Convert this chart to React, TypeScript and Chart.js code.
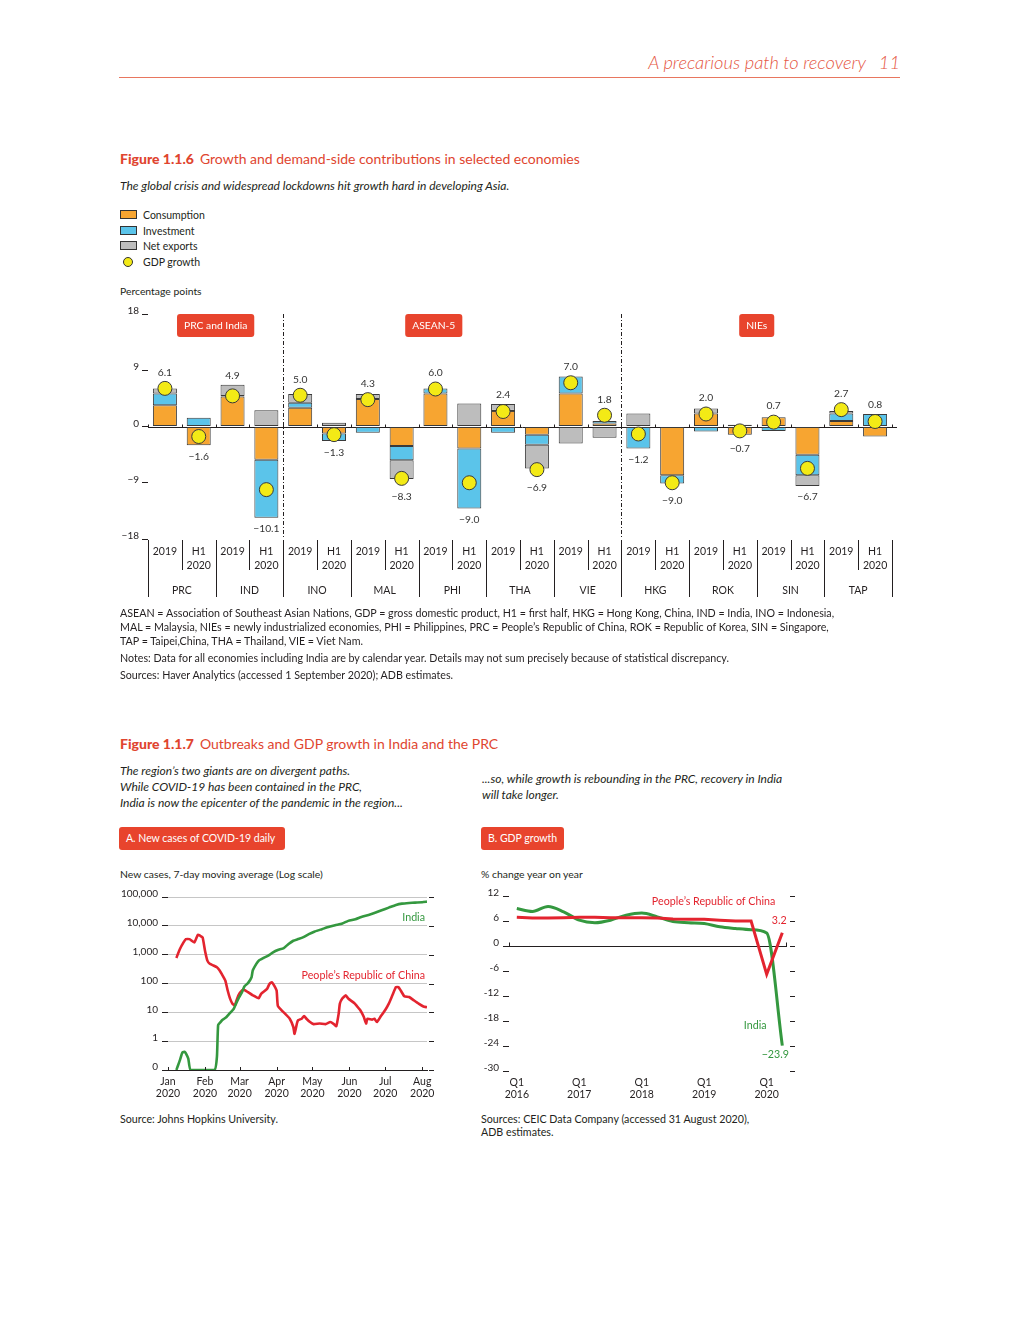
import React, { useEffect, useRef } from 'react';
import { Chart, registerables } from 'chart.js';

Chart.register(...registerables);

const FONT = 'Lato, "Open Sans", "DejaVu Sans", sans-serif';
const INK = '#231f20';
const TITLE_RED = '#E0452F';
const BADGE_RED = '#E8442D';
const ORANGE = '#F7A531';
const BLUE = '#5BC4EA';
const GREY = '#BDBDBD';
const YELLOW = '#F3EA16';
const PRC_RED = '#E3242F';
const INDIA_GREEN = '#34983F';

// ---------- Figure 1.1.6 data ----------
const ECONOMIES = ['PRC', 'IND', 'INO', 'MAL', 'PHI', 'THA', 'VIE', 'HKG', 'ROK', 'SIN', 'TAP'];
const PERIODS = ['2019', 'H1 2020'];
const GROUPS = ['PRC and India', 'ASEAN-5', 'NIEs'];
const GROUP_ANCHORS = [1.5, 7.95, 17.5];
const GROUP_BREAKS = [4, 14];
const BAR_TICKS = [-18, -9, 0, 9, 18];
const CONSUMPTION = [3.4, -3.0, 4.8, -5.3, 3.0, -1.1, 4.4, -3.1, 5.3, -3.5, 2.5, -1.3, 5.3, 0.5, 0.0, -7.8, 2.1, -1.3, 1.5, -4.5, 0.9, -1.6];
const INVESTMENT = [1.9, 1.4, 0.1, -9.3, 0.8, -1.2, -1.0, -2.3, 0.8, -9.6, -1.0, -1.6, 2.7, 0.4, -3.5, -1.3, -0.8, 0.3, -0.7, -3.3, 1.2, 2.0];
const NET_EXPORTS = [0.8, 0.0, 1.8, 2.6, 1.4, 0.6, 0.8, -3.0, 0.0, 3.7, 1.1, -3.8, -2.7, -1.8, 2.1, 0.0, 0.8, 0.0, 0.0, -1.7, 0.4, 0.0];
const GDP_GROWTH = [6.1, -1.6, 4.9, -10.1, 5.0, -1.3, 4.3, -8.3, 6.0, -9.0, 2.4, -6.9, 7.0, 1.8, -1.2, -9.0, 2.0, -0.7, 0.7, -6.7, 2.7, 0.8];
const CATEGORIES = ECONOMIES.flatMap((e) => PERIODS.map((p) => `${e} ${p}`));

// ---------- Figure 1.1.7 A data (7-day average new cases) ----------
const MONTHS = ['Jan', 'Feb', 'Mar', 'Apr', 'May', 'Jun', 'Jul', 'Aug'];
const MONTH_TICK_DATES = ['2020-01-15', '2020-02-15', '2020-03-15', '2020-04-15', '2020-05-15', '2020-06-15', '2020-07-15', '2020-08-15'];
const LOG_TICKS = [0.1, 1, 10, 100, 1000, 10000, 100000];
const PRC_DATES = ['2020-01-22', '2020-01-25', '2020-01-28', '2020-01-30', '2020-02-02', '2020-02-06', '2020-02-09', '2020-02-11', '2020-02-13', '2020-02-15', '2020-02-17', '2020-02-19', '2020-02-22', '2020-02-25', '2020-02-27', '2020-02-29', '2020-03-03', '2020-03-05', '2020-03-07', '2020-03-09', '2020-03-11', '2020-03-12', '2020-03-14', '2020-03-17', '2020-03-19', '2020-03-22', '2020-03-26', '2020-03-31', '2020-04-02', '2020-04-07', '2020-04-09', '2020-04-11', '2020-04-13', '2020-04-15', '2020-04-16', '2020-04-19', '2020-04-22', '2020-04-26', '2020-04-29', '2020-04-30', '2020-05-02', '2020-05-03', '2020-05-06', '2020-05-08', '2020-05-10', '2020-05-13', '2020-05-16', '2020-05-21', '2020-05-26', '2020-05-30', '2020-06-02', '2020-06-04', '2020-06-06', '2020-06-07', '2020-06-09', '2020-06-12', '2020-06-14', '2020-06-19', '2020-06-21', '2020-06-24', '2020-06-27', '2020-06-29', '2020-06-30', '2020-07-04', '2020-07-06', '2020-07-08', '2020-07-11', '2020-07-15', '2020-07-18', '2020-07-21', '2020-07-24', '2020-07-26', '2020-07-28', '2020-07-31', '2020-08-04', '2020-08-08', '2020-08-12', '2020-08-16', '2020-08-19'];
const PRC_CASES = [770, 1570, 2660, 3470, 3470, 2660, 4900, 4520, 3960, 1370, 620, 480, 420, 365, 295, 215, 127, 57, 30, 20, 17, 23, 39, 57, 60, 50, 39, 31, 44, 65, 97, 111, 85, 57, 17, 12, 9, 6, 3.1, 1.8, 4.1, 5.3, 6, 7.5, 6, 4.6, 3.9, 4.1, 3.9, 4.6, 3.9, 3.3, 9, 20, 30, 39, 30, 21, 17, 12, 7, 4.1, 6, 5.6, 6, 4.6, 7, 12, 20, 39, 75, 75, 57, 36, 34, 26, 20, 16, 15];
const INDIA_DATES = ['2020-01-22', '2020-01-23', '2020-01-25', '2020-01-27', '2020-01-29', '2020-01-30', '2020-02-01', '2020-02-03', '2020-02-23', '2020-02-25', '2020-02-26', '2020-02-28', '2020-03-01', '2020-03-04', '2020-03-07', '2020-03-10', '2020-03-12', '2020-03-14', '2020-03-17', '2020-03-19', '2020-03-22', '2020-03-25', '2020-03-26', '2020-03-29', '2020-03-31', '2020-04-04', '2020-04-08', '2020-04-12', '2020-04-16', '2020-04-21', '2020-04-25', '2020-04-29', '2020-05-03', '2020-05-07', '2020-05-12', '2020-05-17', '2020-05-23', '2020-05-29', '2020-06-03', '2020-06-09', '2020-06-14', '2020-06-20', '2020-06-25', '2020-07-01', '2020-07-07', '2020-07-12', '2020-07-18', '2020-07-24', '2020-07-29', '2020-08-04', '2020-08-09', '2020-08-15', '2020-08-19'];
const INDIA_CASES = [0, 0.13, 0.22, 0.4, 0.43, 0.38, 0.25, 0, 0, 0.29, 3.6, 4.6, 5.6, 6.9, 9.5, 13, 20, 30, 50, 79, 103, 165, 281, 477, 621, 767, 925, 1200, 1450, 1700, 2340, 3040, 3470, 3960, 5160, 6380, 7680, 9250, 10550, 12030, 14860, 16980, 20420, 23930, 28840, 34680, 42850, 52970, 58880, 62120, 63830, 65500, 69040];

// ---------- Figure 1.1.7 B data (GDP % change y-o-y) ----------
const QUARTERS = ['Q1 2016', 'Q2 2016', 'Q3 2016', 'Q4 2016', 'Q1 2017', 'Q2 2017', 'Q3 2017', 'Q4 2017', 'Q1 2018', 'Q2 2018', 'Q3 2018', 'Q4 2018', 'Q1 2019', 'Q2 2019', 'Q3 2019', 'Q4 2019', 'Q1 2020', 'Q2 2020'];
const QUARTER_TICKS = [0, 4, 8, 12, 16];
const PRC_GDP = [6.9, 6.7, 6.7, 6.8, 6.9, 6.9, 6.8, 6.8, 6.8, 6.7, 6.5, 6.4, 6.4, 6.2, 6.0, 6.0, -6.8, 3.2];
const INDIA_GDP = [9.0, 8.3, 9.5, 8.2, 6.2, 5.6, 6.2, 7.4, 7.9, 7.0, 5.9, 5.6, 5.4, 4.6, 4.2, 3.9, 3.1, -23.9];
const GDP_TICKS = [-30, -24, -18, -12, -6, 0, 6, 12];

const LOG_FLOOR = LOG_TICKS[0];
const dayOfYear = (iso: string) => {
  const [y, m, d] = iso.split('-').map(Number);
  return (Date.UTC(y, m - 1, d) - Date.UTC(y, 0, 1)) / 86400000;
};
const fmt = (v: number) => (v < 0 ? '\u2212' : '') + Math.abs(v).toFixed(1);
const f = (size: number, weight = 'normal', style = 'normal') => `${style} ${weight} ${size}px ${FONT}`;

Chart.defaults.font.family = FONT;
Chart.defaults.color = INK;

// ---------- plugins ----------
const barDecor = {
  id: 'barDecor',
  beforeDatasetsDraw(chart: any) {
    const { ctx, chartArea, scales } = chart;
    const x = scales.x, y = scales.y;
    const y0 = Math.round(y.getPixelForValue(0)) + 0.5;
    ctx.save();
    ctx.strokeStyle = INK;
    ctx.lineWidth = 1;
    ctx.beginPath();
    ctx.moveTo(chartArea.left, y0);
    ctx.lineTo(chartArea.right + 5, y0);
    for (let i = 0; i <= CATEGORIES.length; i++) {
      const bx = Math.round(x.getPixelForValue(i - 0.5)) + 0.5;
      ctx.moveTo(bx, y0);
      ctx.lineTo(bx, y0 - 3);
    }
    ctx.stroke();
    ctx.setLineDash([4, 2, 1, 2]);
    ctx.beginPath();
    GROUP_BREAKS.forEach((b) => {
      const bx = Math.round(x.getPixelForValue(b - 0.5)) + 0.5;
      ctx.moveTo(bx, chartArea.top);
      ctx.lineTo(bx, chartArea.bottom - 2);
    });
    ctx.stroke();
    ctx.restore();
  },
  afterDraw(chart: any) {
    const { ctx, chartArea, scales } = chart;
    const x = scales.x, y = scales.y;
    const R = 7;
    ctx.save();
    // GDP value labels
    ctx.font = f(10.3);
    ctx.fillStyle = '#333';
    ctx.textAlign = 'center';
    ctx.textBaseline = 'middle';
    GDP_GROWTH.forEach((g, i) => {
      const vals = [CONSUMPTION[i], INVESTMENT[i], NET_EXPORTS[i]];
      const pos = vals.reduce((s, v) => s + Math.max(0, v), 0);
      const neg = vals.reduce((s, v) => s + Math.min(0, v), 0);
      const dot = y.getPixelForValue(g);
      const cx = x.getPixelForValue(i);
      const ty = g >= 0
        ? Math.min(y.getPixelForValue(pos), dot - R) - 9
        : Math.max(y.getPixelForValue(neg), dot + R) + 11;
      ctx.fillText(fmt(g), cx, ty);
    });
    // group badges
    GROUPS.forEach((g, k) => {
      const cx = x.getPixelForValue(GROUP_ANCHORS[k]);
      ctx.font = f(10.3);
      const w = ctx.measureText(g).width + 14;
      const top = chartArea.top;
      ctx.fillStyle = BADGE_RED;
      ctx.beginPath();
      if (ctx.roundRect) ctx.roundRect(cx - w / 2, top, w, 23, 3);
      else ctx.rect(cx - w / 2, top, w, 23);
      ctx.fill();
      ctx.fillStyle = '#fff';
      ctx.fillText(g, cx, top + 12);
    });
    // two-level category axis
    const base = chartArea.bottom;
    ctx.strokeStyle = INK;
    ctx.lineWidth = 1;
    ctx.beginPath();
    for (let i = 0; i <= CATEGORIES.length; i++) {
      const bx = Math.round(x.getPixelForValue(i - 0.5)) + 0.5;
      ctx.moveTo(bx, base + 1);
      ctx.lineTo(bx, base + (i % 2 === 0 ? 58 : 31));
    }
    ctx.stroke();
    ctx.fillStyle = INK;
    ctx.font = f(10.5);
    CATEGORIES.forEach((c, i) => {
      const cx = x.getPixelForValue(i);
      const p = PERIODS[i % 2].split(' ');
      p.forEach((line, j) => ctx.fillText(line, cx, base + 13 + j * 14));
    });
    ECONOMIES.forEach((e, k) => {
      ctx.fillText(e, x.getPixelForValue(2 * k + 0.5), base + 52);
    });
    ctx.restore();
  },
};

const covidDecor = {
  id: 'covidDecor',
  afterDraw(chart: any) {
    const { ctx, chartArea, scales } = chart;
    const x = scales.x, y = scales.y;
    ctx.save();
    ctx.strokeStyle = INK;
    ctx.lineWidth = 1;
    ctx.beginPath();
    LOG_TICKS.forEach((v) => {
      const py = Math.round(y.getPixelForValue(v)) + 0.5;
      ctx.moveTo(chartArea.right + 2, py);
      ctx.lineTo(chartArea.right + 7, py);
    });
    MONTH_TICK_DATES.forEach((d) => {
      const px = Math.round(x.getPixelForValue(dayOfYear(d))) + 0.5;
      ctx.moveTo(px, chartArea.bottom);
      ctx.lineTo(px, chartArea.bottom - 3);
    });
    ctx.stroke();
    ctx.font = f(10.7);
    ctx.textAlign = 'right';
    ctx.textBaseline = 'middle';
    ctx.fillStyle = INDIA_GREEN;
    ctx.fillText('India', chartArea.right - 2, y.getPixelForValue(19500));
    ctx.fillStyle = PRC_RED;
    ctx.fillText('People\u2019s Republic of China', chartArea.right - 2, y.getPixelForValue(195));
    ctx.restore();
  },
};

const gdpDecor = {
  id: 'gdpDecor',
  afterDraw(chart: any) {
    const { ctx, chartArea, scales } = chart;
    const x = scales.x, y = scales.y;
    ctx.save();
    ctx.strokeStyle = INK;
    ctx.lineWidth = 1;
    ctx.beginPath();
    GDP_TICKS.forEach((v) => {
      const py = Math.round(y.getPixelForValue(v)) + 0.5;
      ctx.moveTo(chartArea.right + 3, py);
      ctx.lineTo(chartArea.right + 8, py);
    });
    const y0 = Math.round(y.getPixelForValue(0)) + 0.5;
    ctx.moveTo(chartArea.left + 0.5, y0);
    ctx.lineTo(chartArea.left + 0.5, y0 - 4);
    ctx.moveTo(chartArea.right - 0.5, y0);
    ctx.lineTo(chartArea.right - 0.5, y0 - 4);
    ctx.stroke();
    const last = QUARTERS.length - 1;
    const lx = x.getPixelForValue(last);
    ctx.font = f(10.7);
    ctx.textBaseline = 'middle';
    ctx.fillStyle = PRC_RED;
    ctx.textAlign = 'right';
    ctx.fillText('People\u2019s Republic of China', x.getPixelForValue(16.55), y.getPixelForValue(10.7));
    ctx.textAlign = 'center';
    ctx.fillText(fmt(PRC_GDP[last]), lx - 3, y.getPixelForValue(PRC_GDP[last]) - 12);
    ctx.fillStyle = INDIA_GREEN;
    ctx.fillText('India', x.getPixelForValue(15.26), y.getPixelForValue(-19.2));
    ctx.fillText(fmt(INDIA_GDP[last]), lx - 7, y.getPixelForValue(INDIA_GDP[last]) + 9);
    ctx.restore();
  },
};

// ---------- chart components ----------
function BarChart() {
  const ref = useRef<HTMLCanvasElement>(null);
  useEffect(() => {
    const barDs = (label: string, data: number[], color: string) => ({
      type: 'bar' as const,
      label,
      data,
      backgroundColor: color,
      borderColor: '#3a3a3a',
      borderWidth: 1,
      borderSkipped: false,
      barPercentage: 0.71,
      categoryPercentage: 1,
      stack: 'demand',
      order: 1,
    });
    const chart = new Chart(ref.current!, {
      type: 'bar',
      data: {
        labels: CATEGORIES,
        datasets: [
          {
            type: 'line' as const,
            label: 'GDP growth',
            data: GDP_GROWTH,
            showLine: false,
            pointRadius: 7,
            pointBackgroundColor: YELLOW,
            pointBorderColor: '#3a3a3a',
            pointBorderWidth: 1,
            stack: 'gdp',
            order: 0,
          } as any,
          barDs('Consumption', CONSUMPTION, ORANGE),
          barDs('Investment', INVESTMENT, BLUE),
          barDs('Net exports', NET_EXPORTS, GREY),
        ],
      },
      options: {
        animation: false,
        responsive: false,
        maintainAspectRatio: false,
        layout: { padding: { top: 14, bottom: 71, right: 13, left: 0 } },
        plugins: { legend: { display: false }, tooltip: { enabled: false } },
        scales: {
          x: { stacked: true, display: false },
          y: {
            stacked: true,
            min: -18,
            max: 18,
            afterBuildTicks: (s: any) => { s.ticks = BAR_TICKS.map((v) => ({ value: v })); },
            afterFit: (s: any) => { s.width = 33; },
            grid: { drawOnChartArea: false, drawTicks: true, tickLength: 6, tickColor: INK, color: INK },
            border: { display: false },
            ticks: { padding: 3, labelOffset: -3, font: { size: 10 }, color: INK, callback: (v: any) => (v < 0 ? '\u2212' + Math.abs(v) : String(v)) },
          },
        },
      },
      plugins: [barDecor],
    } as any);
    return () => chart.destroy();
  }, []);
  return <canvas ref={ref} width={790} height={310} style={{ position: 'absolute', left: 115, top: 300, width: 790, height: 310 }} />;
}

function CovidChart() {
  const ref = useRef<HTMLCanvasElement>(null);
  useEffect(() => {
    const chart = new Chart(ref.current!, {
      type: 'line',
      data: {
        datasets: [
          {
            label: 'India',
            data: INDIA_DATES.map((d, i) => ({ x: dayOfYear(d), y: Math.max(INDIA_CASES[i], LOG_FLOOR) })),
            borderColor: INDIA_GREEN,
            borderWidth: 2.6,
            pointRadius: 0,
            tension: 0.15,
          },
          {
            label: 'People\u2019s Republic of China',
            data: PRC_DATES.map((d, i) => ({ x: dayOfYear(d), y: Math.max(PRC_CASES[i], LOG_FLOOR) })),
            borderColor: PRC_RED,
            borderWidth: 2.6,
            pointRadius: 0,
            tension: 0.15,
          },
        ],
      },
      options: {
        animation: false,
        responsive: false,
        maintainAspectRatio: false,
        layout: { padding: { top: 17, right: 18, left: 0, bottom: 0 } },
        plugins: { legend: { display: false }, tooltip: { enabled: false } },
        scales: {
          x: {
            type: 'linear',
            min: dayOfYear(MONTH_TICK_DATES[0]),
            max: dayOfYear(INDIA_DATES[INDIA_DATES.length - 1]),
            afterBuildTicks: (s: any) => { s.ticks = MONTH_TICK_DATES.map((d) => ({ value: dayOfYear(d) })); },
            afterFit: (s: any) => { s.height = 40; },
            grid: { display: false, drawTicks: false },
            border: { display: true, color: INK, width: 1 },
            ticks: { autoSkip: false, maxRotation: 0, padding: 5, font: { size: 10.5 }, color: INK, callback: (_v: any, i: number) => [MONTHS[i], '2020'] },
          },
          y: {
            type: 'logarithmic',
            min: LOG_TICKS[0],
            max: LOG_TICKS[LOG_TICKS.length - 1],
            afterBuildTicks: (s: any) => { s.ticks = LOG_TICKS.map((v) => ({ value: v })); },
            afterFit: (s: any) => { s.width = 53; },
            grid: {
              color: (c: any) => (c.tick && Math.abs(c.tick.value - LOG_FLOOR) < 1e-9 ? 'rgba(0,0,0,0)' : '#C6C6C6'),
              tickColor: INK,
              tickLength: 6,
              drawTicks: true,
            },
            border: { display: false },
            ticks: {
              padding: 4,
              labelOffset: -3,
              font: { size: 10 },
              color: INK,
              callback: (v: any) => (Math.abs(v - LOG_FLOOR) < 1e-9 ? '0' : Number(v).toLocaleString('en-US')),
            },
          },
        },
      },
      plugins: [covidDecor],
    } as any);
    return () => chart.destroy();
  }, []);
  return <canvas ref={ref} width={330} height={230} style={{ position: 'absolute', left: 115, top: 880, width: 330, height: 230 }} />;
}

function GdpChart() {
  const ref = useRef<HTMLCanvasElement>(null);
  useEffect(() => {
    const chart = new Chart(ref.current!, {
      type: 'line',
      data: {
        datasets: [
          {
            label: 'People\u2019s Republic of China',
            data: PRC_GDP.map((v, i) => ({ x: i, y: v })),
            borderColor: PRC_RED,
            borderWidth: 3,
            pointRadius: 0,
            tension: 0,
          },
          {
            label: 'India',
            data: INDIA_GDP.map((v, i) => ({ x: i, y: v })),
            borderColor: INDIA_GREEN,
            borderWidth: 3,
            pointRadius: 0,
            cubicInterpolationMode: 'monotone',
          },
        ],
      },
      options: {
        animation: false,
        responsive: false,
        maintainAspectRatio: false,
        layout: { padding: { top: 16, right: 21, left: 0, bottom: 0 } },
        plugins: { legend: { display: false }, tooltip: { enabled: false } },
        scales: {
          x: {
            type: 'linear',
            min: -0.5,
            max: QUARTERS.length - 0.7,
            afterBuildTicks: (s: any) => { s.ticks = QUARTER_TICKS.map((v) => ({ value: v })); },
            afterFit: (s: any) => { s.height = 39; },
            grid: { display: false, drawTicks: false },
            border: { display: false },
            ticks: { autoSkip: false, maxRotation: 0, padding: 5, font: { size: 10.5 }, color: INK, callback: (v: any) => QUARTERS[Math.round(v)].split(' ') },
          },
          y: {
            min: -30,
            max: 12,
            afterBuildTicks: (s: any) => { s.ticks = GDP_TICKS.map((v) => ({ value: v })); },
            afterFit: (s: any) => { s.width = 31; },
            grid: {
              color: (c: any) => (c.tick && c.tick.value === 0 ? INK : 'rgba(0,0,0,0)'),
              tickColor: INK,
              tickLength: 6,
              drawTicks: true,
            },
            border: { display: false },
            ticks: { padding: 4, labelOffset: -3, font: { size: 10 }, color: INK, callback: (v: any) => String(v) },
          },
        },
      },
      plugins: [gdpDecor],
    } as any);
    return () => chart.destroy();
  }, []);
  return <canvas ref={ref} width={330} height={230} style={{ position: 'absolute', left: 478, top: 880, width: 330, height: 230 }} />;
}

// ---------- page text helpers ----------
type TxtProps = { x: number; y: number; size?: number; right?: boolean; style?: React.CSSProperties; children: React.ReactNode };
function Txt({ x, y, size = 10.7, right, style, children }: TxtProps) {
  const s: React.CSSProperties = {
    position: 'absolute',
    top: y - size * 0.6,
    lineHeight: `${size * 1.2}px`,
    fontSize: size,
    whiteSpace: 'nowrap',
    fontFamily: FONT,
    color: INK,
    ...style,
  };
  if (right) s.right = 1020 - x;
  else s.left = x;
  return <div style={s}>{children}</div>;
}

function Badge({ x, y, w, children }: { x: number; y: number; w: number; children: React.ReactNode }) {
  return (
    <div style={{ position: 'absolute', left: x, top: y, width: w, height: 23, background: BADGE_RED, borderRadius: 3, color: '#fff', fontFamily: FONT, fontSize: 10.5, lineHeight: '23px', paddingLeft: 7, boxSizing: 'border-box', whiteSpace: 'nowrap' }}>
      {children}
    </div>
  );
}

const LEGEND = [
  { label: 'Consumption', color: ORANGE, y: 215 },
  { label: 'Investment', color: BLUE, y: 231 },
  { label: 'Net exports', color: GREY, y: 246 },
];

export default function App() {
  const italic: React.CSSProperties = { fontStyle: 'italic' };
  const header: React.CSSProperties = { ...italic, color: '#E5563F', fontWeight: 300 };
  return (
    <div style={{ position: 'absolute', left: 0, top: 0, width: 1020, height: 1320, background: '#fff', overflow: 'hidden' }}>
      {/* running header */}
      <Txt x={866} y={63} size={18.3} right style={header}>A precarious path to recovery</Txt>
      <Txt x={900} y={63} size={18.3} right style={header}>11</Txt>
      <div style={{ position: 'absolute', left: 119, top: 77, width: 781, height: 1, background: '#E8765F' }} />

      {/* Figure 1.1.6 */}
      <Txt x={120} y={159} size={14} style={{ color: TITLE_RED }}>
        <span style={{ fontWeight: 900 }}>Figure 1.1.6</span>
        <span style={{ marginLeft: 6 }}>Growth and demand-side contributions in selected economies</span>
      </Txt>
      <Txt x={120} y={186} size={12} style={italic}>The global crisis and widespread lockdowns hit growth hard in developing Asia.</Txt>
      {LEGEND.map((l) => (
        <React.Fragment key={l.label}>
          <div style={{ position: 'absolute', left: 120, top: l.y - 5, width: 17, height: 9, background: l.color, border: '1px solid #333', boxSizing: 'border-box' }} />
          <Txt x={143} y={l.y} size={10.5}>{l.label}</Txt>
        </React.Fragment>
      ))}
      <div style={{ position: 'absolute', left: 123, top: 257, width: 10, height: 10, borderRadius: '50%', background: YELLOW, border: '1px solid #333', boxSizing: 'border-box' }} />
      <Txt x={143} y={262} size={10.5}>GDP growth</Txt>
      <Txt x={120} y={291} size={10.4}>Percentage points</Txt>
      <BarChart />
      <Txt x={120} y={613}>ASEAN = Association of Southeast Asian Nations, GDP = gross domestic product, H1 = first half, HKG = Hong Kong, China, IND = India, INO = Indonesia,</Txt>
      <Txt x={120} y={627}>MAL = Malaysia, NIEs = newly industrialized economies, PHI = Philippines, PRC = People’s Republic of China, ROK = Republic of Korea, SIN = Singapore,</Txt>
      <Txt x={120} y={641}>TAP = Taipei,China, THA = Thailand, VIE = Viet Nam.</Txt>
      <Txt x={120} y={658}>Notes: Data for all economies including India are by calendar year. Details may not sum precisely because of statistical discrepancy.</Txt>
      <Txt x={120} y={675}>Sources: Haver Analytics (accessed 1 September 2020); ADB estimates.</Txt>

      {/* Figure 1.1.7 */}
      <Txt x={120} y={744} size={14} style={{ color: TITLE_RED }}>
        <span style={{ fontWeight: 900 }}>Figure 1.1.7</span>
        <span style={{ marginLeft: 6 }}>Outbreaks and GDP growth in India and the PRC</span>
      </Txt>
      <Txt x={120} y={771} size={12} style={italic}>The region’s two giants are on divergent paths.</Txt>
      <Txt x={120} y={787} size={12} style={italic}>While COVID-19 has been contained in the PRC,</Txt>
      <Txt x={120} y={803} size={12} style={italic}>India is now the epicenter of the pandemic in the region...</Txt>
      <Txt x={482} y={779} size={12} style={italic}>...so, while growth is rebounding in the PRC, recovery in India</Txt>
      <Txt x={482} y={795} size={12} style={italic}>will take longer.</Txt>
      <Badge x={119} y={827} w={166}>A. New cases of COVID-19 daily</Badge>
      <Badge x={481} y={827} w={83}>B. GDP growth</Badge>
      <Txt x={120} y={874} size={10.4}>New cases, 7-day moving average (Log scale)</Txt>
      <Txt x={481} y={874} size={10.4}>% change year on year</Txt>
      <CovidChart />
      <GdpChart />
      <Txt x={120} y={1119}>Source: Johns Hopkins University.</Txt>
      <Txt x={481} y={1119}>Sources: CEIC Data Company (accessed 31 August 2020),</Txt>
      <Txt x={481} y={1132}>ADB estimates.</Txt>
    </div>
  );
}
